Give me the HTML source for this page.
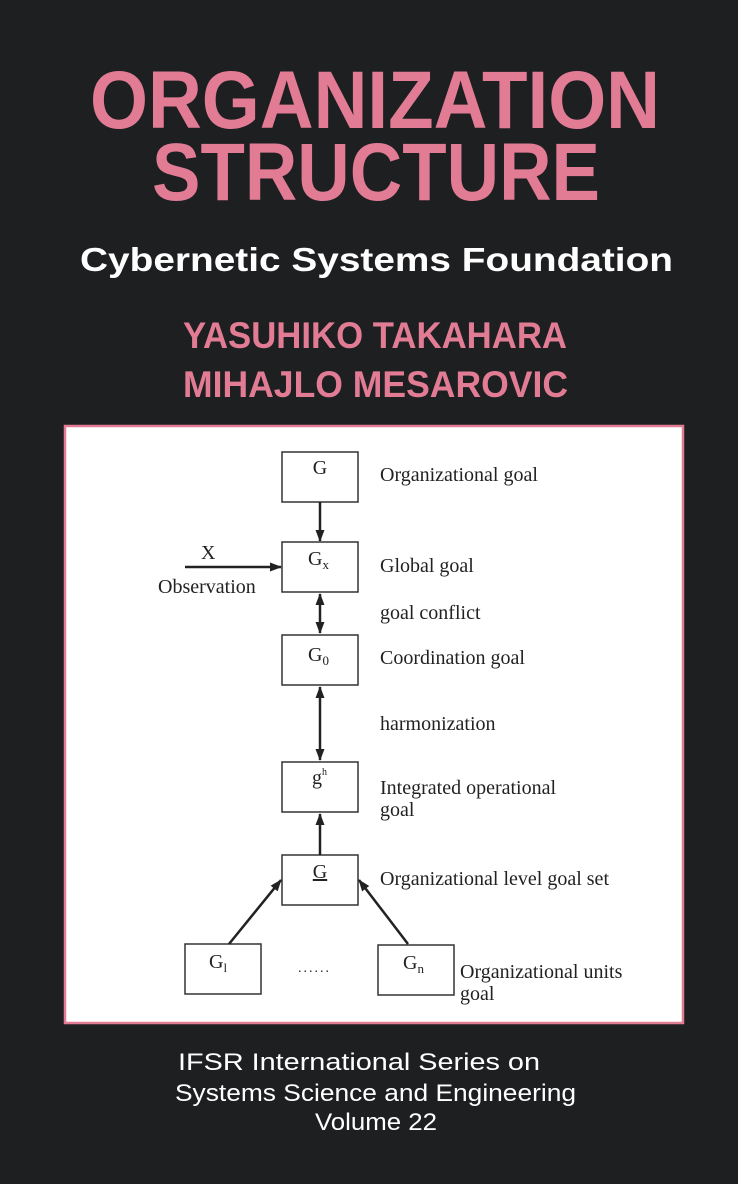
<!DOCTYPE html>
<html><head><meta charset="utf-8"><style>
html,body{margin:0;padding:0;background:#1e1f21;}
svg{display:block}
</style></head><body>
<svg width="738" height="1184" viewBox="0 0 738 1184" xmlns="http://www.w3.org/2000/svg">
<rect width="738" height="1184" fill="#1e1f21"/>
<g font-family="Liberation Sans, Arial, sans-serif" font-weight="bold" fill="#e27c95">
<text x="90" y="128" font-size="82" textLength="570" lengthAdjust="spacingAndGlyphs">ORGANIZATION</text>
<text x="152" y="200" font-size="82" textLength="448" lengthAdjust="spacingAndGlyphs">STRUCTURE</text>
<text x="183" y="348" font-size="37" textLength="384" lengthAdjust="spacingAndGlyphs">YASUHIKO TAKAHARA</text>
<text x="183" y="397" font-size="37" textLength="385" lengthAdjust="spacingAndGlyphs">MIHAJLO MESAROVIC</text>
</g>
<text x="80" y="271" font-family="Liberation Sans, Arial, sans-serif" font-weight="bold" font-size="33" fill="#fff" textLength="593" lengthAdjust="spacingAndGlyphs">Cybernetic Systems Foundation</text>
<g font-family="Liberation Sans, Arial, sans-serif" font-size="24" fill="#fff">
<text x="178" y="1070" textLength="362" lengthAdjust="spacingAndGlyphs">IFSR International Series on</text>
<text x="175" y="1101" textLength="401" lengthAdjust="spacingAndGlyphs">Systems Science and Engineering</text>
<text x="315" y="1130" textLength="122" lengthAdjust="spacingAndGlyphs">Volume 22</text>
</g>
<rect x="65" y="426" width="618" height="597" fill="#fff" stroke="#e27c95" stroke-width="2.5"/>
<defs><marker id="a" markerWidth="12" markerHeight="9" refX="11" refY="4.5" orient="auto-start-reverse" markerUnits="userSpaceOnUse"><path d="M0,0 L12,4.5 L0,9 Z" fill="#222"/></marker></defs>
<g fill="none" stroke="#333" stroke-width="1.5">
<rect x="282" y="452" width="76" height="50"/>
<rect x="282" y="542" width="76" height="50"/>
<rect x="282" y="635" width="76" height="50"/>
<rect x="282" y="762" width="76" height="50"/>
<rect x="282" y="855" width="76" height="50"/>
<rect x="185" y="944" width="76" height="50"/>
<rect x="378" y="945" width="76" height="50"/>
</g>
<g stroke="#222" stroke-width="2.5" fill="none">
<line x1="320" y1="502" x2="320" y2="541" marker-end="url(#a)"/>
<line x1="185" y1="567" x2="281" y2="567" marker-end="url(#a)"/>
<line x1="320" y1="594" x2="320" y2="633" marker-start="url(#a)" marker-end="url(#a)"/>
<line x1="320" y1="687" x2="320" y2="760" marker-start="url(#a)" marker-end="url(#a)"/>
<line x1="320" y1="855" x2="320" y2="814" marker-end="url(#a)"/>
<line x1="229" y1="944" x2="281" y2="880" marker-end="url(#a)"/>
<line x1="408" y1="944" x2="359" y2="880" marker-end="url(#a)"/>
</g>
<g font-family="Liberation Serif, Times New Roman, serif" font-size="20" fill="#222">
<text x="320" y="474" text-anchor="middle" font-size="20">G</text>
<text x="308" y="565" font-size="20">G<tspan font-size="13" dy="4">x</tspan></text>
<text x="308" y="661" font-size="20">G<tspan font-size="13" dy="4">0</tspan></text>
<text x="312" y="784" font-size="20">g<tspan font-size="10" dy="-9">h</tspan></text>
<text x="320" y="878" text-anchor="middle" font-size="20" text-decoration="underline">G</text>
<text x="209" y="968" font-size="20">G<tspan font-size="13" dy="4">l</tspan></text>
<text x="403" y="969" font-size="20">G<tspan font-size="13" dy="4">n</tspan></text>
<text x="298" y="972" font-size="14" letter-spacing="2">......</text>
<text x="201" y="559">X</text>
<text x="158" y="593">Observation</text>
<text x="380" y="481">Organizational goal</text>
<text x="380" y="572">Global goal</text>
<text x="380" y="619">goal conflict</text>
<text x="380" y="664">Coordination goal</text>
<text x="380" y="730">harmonization</text>
<text x="380" y="794">Integrated operational</text>
<text x="380" y="816">goal</text>
<text x="380" y="885">Organizational level goal set</text>
<text x="460" y="978">Organizational units</text>
<text x="460" y="1000">goal</text>
</g>
</svg>
</body></html>
